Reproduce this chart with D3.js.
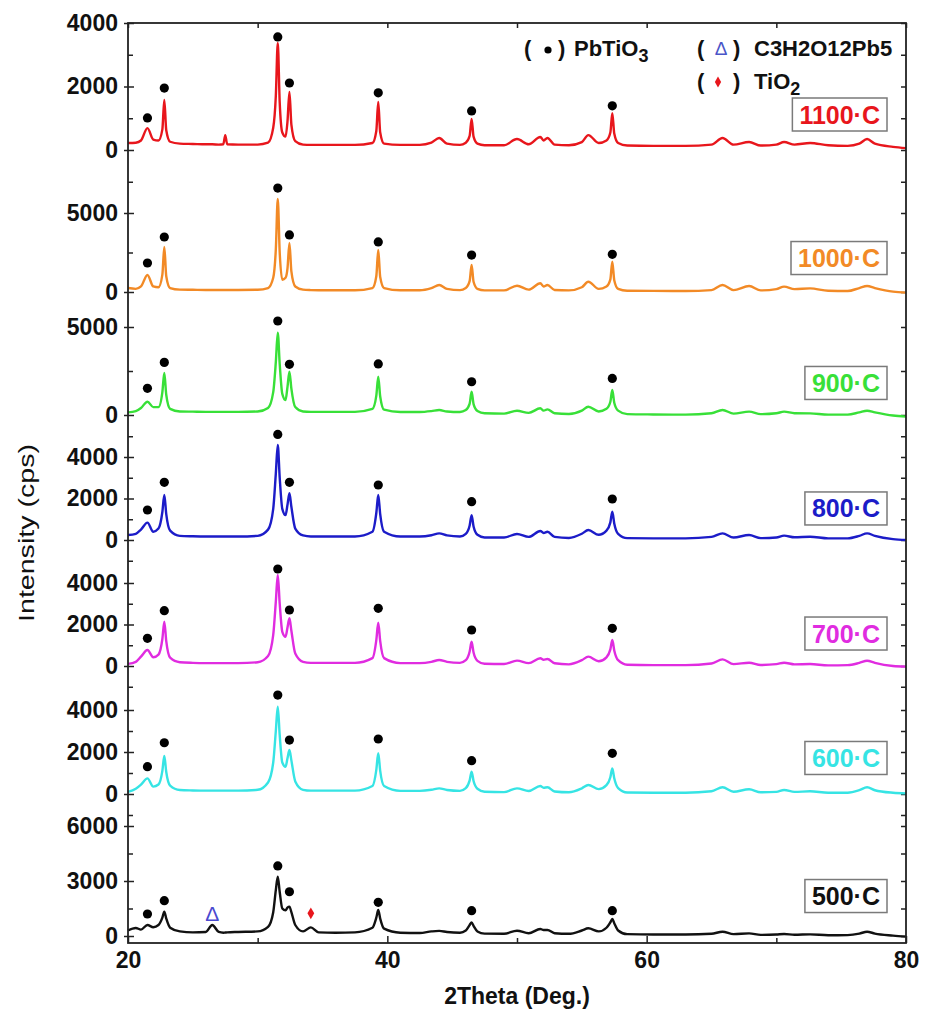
<!DOCTYPE html>
<html>
<head>
<meta charset="utf-8">
<script src="https://cdn.jsdelivr.net/npm/d3@7"></script>
<style>
  body { margin: 0; background: #fff; }
  svg { display: block; }
  text { font-family: "Liberation Sans", Arial, sans-serif; }
</style>
</head>
<body>
<script>
// 2Theta grid shared by all the patterns (deg.)
var theta = [
  20, 20.6, 21, 21.5, 21.95, 22.35, 22.65, 22.8, 22.95, 23.25,
  24, 25, 26, 26.5, 27, 27.35, 27.5, 27.65, 28.5, 30,
  30.8, 31.2, 31.4, 31.55, 31.7, 31.9, 32.15, 32.3, 32.45, 32.6,
  32.9, 33.5, 34.1, 34.7, 36, 37.5, 38.85, 39.15, 39.3, 39.45,
  39.75, 41, 42.5, 43.4, 44, 44.6, 45.6, 46.05, 46.35, 46.5,
  46.65, 46.95, 47.5, 49, 50, 50.9, 51.8, 52.05, 52.35, 52.9,
  54, 55, 55.5, 56.3, 56.9, 57.2, 57.35, 57.5, 57.8, 58.5,
  60.5, 63, 65, 65.85, 66.7, 67.9, 68.8, 70, 70.6, 71.4,
  72.6, 74, 75.5, 76.4, 77, 77.6, 79, 80
];

// intensities (cps), one list per anneal temperature
var cps1100 = [
  220, 230, 300, 690, 330, 300, 650, 1575, 620, 260,
  200, 190, 180, 180, 170, 180, 470, 180, 170, 170,
  230, 700, 1700, 3370, 1500, 550, 420, 900, 1830, 800,
  280, 170, 160, 160, 160, 160, 220, 600, 1510, 550,
  200, 160, 160, 230, 380, 200, 160, 230, 450, 980,
  420, 200, 150, 150, 345, 180, 410, 300, 380, 170,
  150, 250, 470, 220, 300, 550, 1160, 520, 220, 140,
  130, 130, 170, 380, 170, 250, 140, 170, 250, 170,
  220, 150, 130, 200, 345, 200, 100, 60
];
var cps1000 = [
  250, 200, 350, 1076, 350, 300, 1100, 2850, 1000, 250,
  150, 140, 130, 130, 130, 130, 130, 130, 130, 140,
  250, 900, 2700, 5890, 2500, 780, 900, 1500, 3100, 1300,
  350, 150, 120, 110, 110, 110, 250, 1000, 2660, 950,
  250, 110, 110, 250, 440, 200, 120, 250, 700, 1710,
  650, 200, 100, 100, 400, 150, 550, 350, 440, 130,
  100, 300, 650, 200, 350, 800, 1920, 750, 200, 80,
  70, 60, 120, 440, 120, 380, 100, 180, 340, 180,
  230, 80, 60, 250, 380, 250, 20, -40
];
var cps900 = [
  150, 220, 400, 755, 450, 450, 1300, 2385, 1150, 350,
  200, 190, 180, 180, 180, 180, 180, 180, 180, 200,
  400, 1300, 3000, 4680, 2900, 1200, 850, 1600, 2460, 1500,
  450, 200, 180, 180, 180, 180, 350, 1100, 2180, 1050,
  300, 170, 170, 220, 280, 200, 170, 280, 650, 1320,
  620, 230, 100, 80, 245, 120, 380, 250, 320, 100,
  60, 250, 470, 200, 350, 750, 1420, 700, 250, 50,
  30, 20, 100, 285, 80, 190, 50, 100, 190, 100,
  95, 20, 20, 150, 245, 150, -30, -95
];
var cps800 = [
  240, 300, 500, 835, 400, 550, 1350, 2170, 1250, 450,
  200, 180, 170, 170, 170, 170, 170, 170, 170, 200,
  500, 1500, 3200, 4580, 3000, 1500, 1200, 1700, 2250, 1600,
  550, 220, 170, 170, 170, 170, 400, 1300, 2170, 1250,
  400, 170, 170, 230, 320, 220, 170, 300, 700, 1200,
  650, 250, 120, 120, 290, 150, 435, 340, 400, 150,
  100, 300, 480, 250, 450, 850, 1365, 800, 300, 90,
  80, 80, 150, 320, 120, 240, 90, 120, 210, 130,
  160, 80, 80, 200, 320, 200, 40, 0
];
var cps700 = [
  100, 200, 450, 770, 420, 550, 1300, 2135, 1200, 400,
  180, 150, 140, 140, 140, 140, 140, 140, 140, 180,
  480, 1500, 3100, 4390, 3000, 1650, 1410, 1850, 2300, 1700,
  600, 200, 150, 150, 150, 150, 380, 1250, 2090, 1200,
  380, 140, 140, 200, 290, 200, 150, 280, 700, 1170,
  650, 250, 110, 100, 260, 140, 370, 300, 340, 130,
  80, 280, 450, 230, 420, 800, 1250, 750, 280, 60,
  40, 40, 120, 320, 90, 160, 50, 90, 160, 80,
  95, 30, 40, 150, 255, 150, 0, -30
];
var cps600 = [
  100, 250, 450, 745, 350, 450, 1100, 1810, 1050, 400,
  190, 170, 160, 160, 160, 160, 160, 160, 160, 200,
  550, 1500, 3000, 4155, 2800, 1500, 1300, 1700, 2095, 1600,
  600, 200, 160, 160, 160, 160, 380, 1150, 1940, 1100,
  380, 150, 150, 200, 270, 190, 150, 280, 650, 1060,
  620, 250, 110, 90, 270, 140, 380, 300, 320, 120,
  80, 270, 430, 230, 420, 800, 1220, 750, 280, 70,
  60, 60, 130, 320, 110, 225, 80, 100, 190, 100,
  130, 60, 60, 180, 320, 180, 60, 30
];
var cps500 = [
  300, 440, 350, 600, 480, 600, 1000, 1325, 950, 450,
  250, 200, 220, 600, 220, 180, 190, 200, 220, 250,
  500, 1300, 2500, 3235, 2400, 1500, 1400, 1550, 1600, 1300,
  600, 250, 470, 200, 180, 200, 450, 1000, 1415, 950,
  400, 180, 160, 250, 280, 220, 180, 300, 600, 745,
  550, 250, 130, 120, 290, 150, 380, 330, 330, 150,
  120, 300, 420, 250, 450, 750, 925, 700, 300, 100,
  80, 80, 120, 235, 100, 145, 60, 80, 110, 70,
  90, 40, 50, 130, 235, 130, 20, -35
];

var sampleLabels = ["1100·C", "1000·C", "900·C", "800·C", "700·C", "600·C", "500·C"];
var sampleColors = ["#e8161c", "#f28a26", "#38e038", "#1c1cc8", "#e02ce0", "#36e4e4", "#111111"];
var lineColors = sampleColors;

// PbTiO3 reflections and the height of the marker above each peak (cps)
var pbPeaks = [21.5, 22.8, 31.55, 32.45, 39.3, 46.5, 57.35];
var dots1100 = [1010, 1950, 3560, 2110, 1800, 1230, 1390];
var dots1000 = [1835, 3480, 6580, 3610, 3170, 2340, 2385];
var dots900 = [1515, 2990, 5340, 2880, 2900, 1890, 2080];
var dots800 = [1445, 2780, 5090, 2780, 2650, 1845, 1975];
var dots700 = [1335, 2665, 4675, 2700, 2780, 1735, 1815];
var dots600 = [1300, 2440, 4710, 2570, 2620, 1585, 1935];
var dots500 = [1200, 1925, 3820, 2415, 1835, 1380, 1380];

// secondary phases, 500 C only
var c3Peak = [26.5, 1235];
var tio2Peak = [34.1, 1235];

// axis ticks
var xTicks = [20, 40, 60, 80];
var xMinor = [30, 50, 70];
var yLabels = [[0, 2000, 4000], [0, 5000], [0, 5000], [0, 2000, 4000], [0, 2000, 4000], [0, 2000, 4000], [0, 3000, 6000]];
var yMinor = [
  [-1000, 1000, 3000],
  [2500],
  [2500],
  [-1000, 1000, 3000, 5000],
  [-1000, 1000, 3000],
  [-1000, 1000, 3000],
  [1500, 4500]
];
// where each sample label box sits (cps in its own panel)
var labelAt = [1118, 2150, 1820, 1520, 1565, 1715, 2180];

// ---------------- layout ----------------
var width = 929, height = 1010;
var plot = { left: 128, right: 906, top: 23, bottom: 943 };

// pixel of 0 and pixel of the top value for every stacked panel
var panels = [
  { top: 4000, y0: 150, yTop: 23 },
  { top: 5000, y0: 292, yTop: 213 },
  { top: 5000, y0: 415, yTop: 327 },
  { top: 4000, y0: 540, yTop: 457 },
  { top: 4000, y0: 666, yTop: 583 },
  { top: 4000, y0: 794, yTop: 710 },
  { top: 6000, y0: 936, yTop: 826 }
];

var series = [cps1100, cps1000, cps900, cps800, cps700, cps600, cps500];
var dots = [dots1100, dots1000, dots900, dots800, dots700, dots600, dots500];

var svg = d3.select("body").append("svg")
    .attr("width", width)
    .attr("height", height);

var x = d3.scaleLinear().domain([20, 80]).range([plot.left, plot.right]);

function styleAxis(g) {
    g.select(".domain").remove();
    g.selectAll(".tick line").attr("stroke", "#222").attr("stroke-width", 1.5);
}

panels.forEach(function (p, k) {
    var y = d3.scaleLinear().domain([0, p.top]).range([p.y0, p.yTop]);

    // left axis: minor ticks pointing in
    svg.append("g")
        .attr("transform", "translate(" + plot.left + ",0)")
        .call(d3.axisRight(y).tickValues(yMinor[k]).tickSize(5).tickFormat(""))
        .call(styleAxis);

    // left axis: labelled ticks
    svg.append("g")
        .attr("transform", "translate(" + plot.left + ",0)")
        .call(d3.axisLeft(y).tickValues(yLabels[k]).tickSize(4).tickPadding(6).tickFormat(d3.format("d")))
        .call(styleAxis)
        .call(function (g) {
            g.selectAll(".tick text")
                .attr("font-family", "'Liberation Sans', Arial, sans-serif")
                .attr("font-size", 23)
                .attr("font-weight", "bold")
                .attr("fill", "#111");
        });
    svg.append("g")
        .attr("transform", "translate(" + plot.left + ",0)")
        .call(d3.axisRight(y).tickValues(yLabels[k]).tickSize(6).tickFormat(""))
        .call(styleAxis);

    // right axis, ticks pointing in
    svg.append("g")
        .attr("transform", "translate(" + plot.right + ",0)")
        .call(d3.axisLeft(y).tickValues(yMinor[k].concat(yLabels[k])).tickSize(5).tickFormat(""))
        .call(styleAxis);

    // the pattern
    var line = d3.line()
        .x(function (d, i) { return x(theta[i]); })
        .y(function (d) { return y(d); })
        .curve(d3.curveMonotoneX);

    svg.append("path")
        .datum(series[k])
        .attr("fill", "none")
        .attr("stroke", lineColors[k])
        .attr("stroke-width", 2.4)
        .attr("stroke-linejoin", "round")
        .attr("d", line);

    // PbTiO3 markers
    svg.append("g").selectAll("circle")
        .data(dots[k])
        .enter().append("circle")
        .attr("cx", function (d, i) { return x(pbPeaks[i]); })
        .attr("cy", function (d) { return y(d); })
        .attr("r", 4.6)
        .attr("fill", "#000");

    // sample label in a box
    var lab = svg.append("g");
    var t = lab.append("text")
        .attr("x", 880)
        .attr("y", y(labelAt[k]))
        .attr("dy", "0.36em")
        .attr("text-anchor", "end")
        .attr("font-size", 25)
        .attr("font-weight", "bold")
        .attr("fill", sampleColors[k])
        .text(sampleLabels[k]);
    var w = t.node().getComputedTextLength();
    lab.insert("rect", "text")
        .attr("x", 880 - w - 7)
        .attr("y", y(labelAt[k]) - 16.5)
        .attr("width", w + 14)
        .attr("height", 33)
        .attr("fill", "#fff")
        .attr("stroke", "#7a7a7a")
        .attr("stroke-width", 1.5);

    // secondary phase marks on the 500 C pattern
    if (k === 6) {
        svg.append("text")
            .attr("x", x(c3Peak[0]))
            .attr("y", y(c3Peak[1]))
            .attr("dy", "0.35em")
            .attr("text-anchor", "middle")
            .attr("font-size", 21)
            .attr("fill", "#4a4ad0")
            .text("Δ");
        svg.append("path")
            .attr("d", d3.symbol().type(d3.symbolDiamond).size(40)())
            .attr("transform", "translate(" + x(tio2Peak[0]) + "," + y(tio2Peak[1]) + ")")
            .attr("fill", "#e8161c");
    }
});

// bottom and top 2Theta axes
svg.append("g")
    .attr("transform", "translate(0," + plot.bottom + ")")
    .call(d3.axisTop(x).tickValues(xMinor).tickSize(5).tickFormat(""))
    .call(styleAxis);
svg.append("g")
    .attr("transform", "translate(0," + plot.bottom + ")")
    .call(d3.axisTop(x).tickValues(xTicks).tickSize(7).tickFormat(""))
    .call(styleAxis);
svg.append("g")
    .attr("transform", "translate(0," + plot.bottom + ")")
    .call(d3.axisBottom(x).tickValues(xTicks).tickSize(0).tickPadding(9).tickFormat(d3.format("d")))
    .call(styleAxis)
    .call(function (g) {
        g.selectAll(".tick text")
            .attr("font-family", "'Liberation Sans', Arial, sans-serif")
            .attr("font-size", 23)
            .attr("font-weight", "bold")
            .attr("fill", "#111");
    });
svg.append("g")
    .attr("transform", "translate(0," + plot.top + ")")
    .call(d3.axisBottom(x).tickValues(xMinor.concat(xTicks)).tickSize(5).tickFormat(""))
    .call(styleAxis);

// frame
svg.append("rect")
    .attr("x", plot.left)
    .attr("y", plot.top)
    .attr("width", plot.right - plot.left)
    .attr("height", plot.bottom - plot.top)
    .attr("fill", "none")
    .attr("stroke", "#222")
    .attr("stroke-width", 1.8);

// axis titles
svg.append("text")
    .attr("transform", "translate(34,533) rotate(-90) scale(1.3,1)")
    .attr("text-anchor", "middle")
    .attr("font-size", 22)
    .attr("fill", "#111")
    .text("Intensity (cps)");

svg.append("text")
    .attr("x", 517)
    .attr("y", 1004)
    .attr("text-anchor", "middle")
    .attr("font-family", "Lato, 'Open Sans', sans-serif")
    .attr("font-size", 23)
    .attr("font-weight", "bold")
    .attr("fill", "#111")
    .text("2Theta (Deg.)");

// legend
var leg = svg.append("g")
    .attr("font-size", 22)
    .attr("font-weight", "bold")
    .attr("fill", "#111");

leg.append("text").attr("x", 524).attr("y", 56).text("(");
leg.append("circle").attr("cx", 548).attr("cy", 50).attr("r", 3.6).attr("fill", "#000");
leg.append("text").attr("x", 558).attr("y", 56).text(")");
var pb = leg.append("text").attr("x", 574).attr("y", 56).text("PbTiO");
pb.append("tspan").attr("dy", 6).attr("font-size", 18).text("3");

leg.append("text").attr("x", 697).attr("y", 56).text("(");
leg.append("text").attr("x", 721).attr("y", 55).attr("text-anchor", "middle")
    .attr("font-size", 19).attr("font-weight", "normal").attr("fill", "#4a55c8").text("Δ");
leg.append("text").attr("x", 733).attr("y", 56).text(")");
leg.append("text").attr("x", 754).attr("y", 56).text("C3H2O12Pb5");

leg.append("text").attr("x", 697).attr("y", 89).text("(");
leg.append("path")
    .attr("d", d3.symbol().type(d3.symbolDiamond).size(34)())
    .attr("transform", "translate(718,82)")
    .attr("fill", "#e8161c");
leg.append("text").attr("x", 733).attr("y", 89).text(")");
var ti = leg.append("text").attr("x", 754).attr("y", 89).text("TiO");
ti.append("tspan").attr("dy", 6).attr("font-size", 18).text("2");
</script>
</body>
</html>
